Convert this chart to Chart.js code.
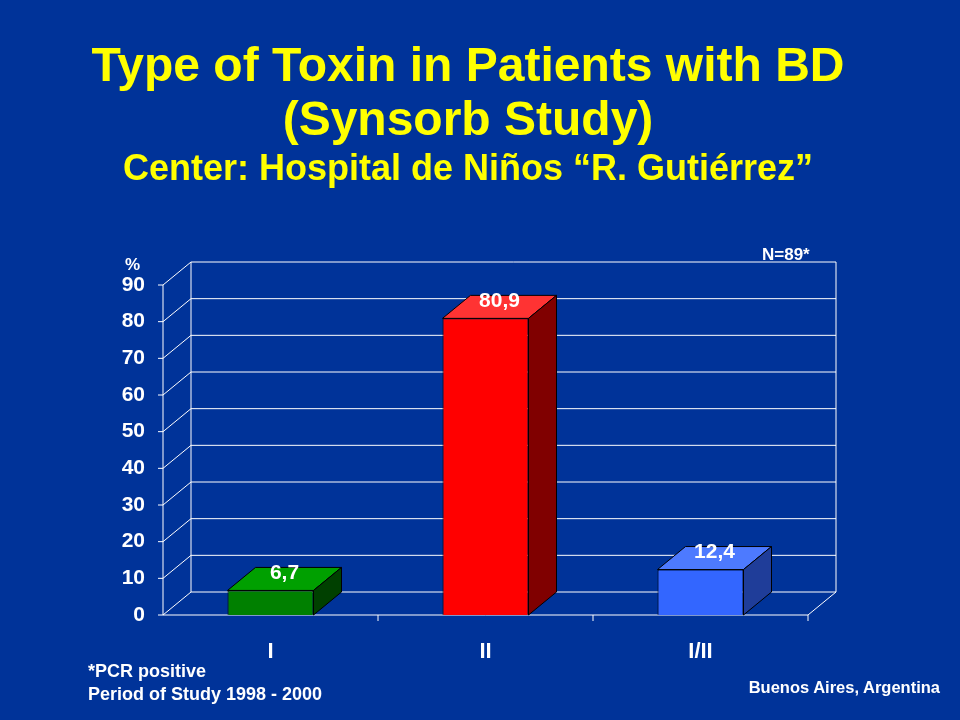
<!DOCTYPE html>
<html><head><meta charset="utf-8">
<script src="https://cdn.jsdelivr.net/npm/chart.js"></script>
<style>
body{margin:0;background:#003399;width:960px;height:720px;overflow:hidden;font-family:"Liberation Sans",Arial,sans-serif;}
.t{position:absolute;color:#ffff00;font-weight:bold;text-align:center;left:0;width:960px;}
.w{position:absolute;color:#fff;font-weight:bold;font-size:18px;}
canvas{position:absolute;left:0;top:0;}
</style></head><body>
<canvas id="c" width="960" height="720"></canvas>
<div class="t" style="top:38px;font-size:48px;line-height:54px;left:-12px">Type of Toxin in Patients with BD<br>(Synsorb Study)</div>
<div class="t" style="top:147px;font-size:36px;left:-12px">Center: Hospital de Niños “R. Gutiérrez”</div>
<div class="w" style="left:125px;top:255px;font-size:17px">%</div>
<div class="w" style="left:762px;top:245px;font-size:17px">N=89*</div>
<div class="w" style="left:88px;top:660px;line-height:23px">*PCR positive<br>Period of Study 1998 - 2000</div>
<div class="w" style="right:20px;top:678px;font-size:16.5px">Buenos Aires, Argentina</div>
<script>
const categories=["I","II","I/II"];
const values=[6.7,80.9,12.4];
const valueLabels=["6,7","80,9","12,4"];
const frontColors=["#008000","#ff0000","#3366ff"];
const topColors=["#00a000","#ff3333","#4d7aff"];
const sideColors=["#004000","#800000","#1f3d99"];
const DX=28,DY=-23;
const threeD={id:'threeD',
beforeDatasetsDraw(ch){const {ctx,chartArea:a,scales:{y}}=ch;ctx.save();ctx.strokeStyle='#fff';ctx.lineWidth=1;
 for(let v=0;v<=90;v+=10){const py=y.getPixelForValue(v);ctx.beginPath();ctx.moveTo(a.left,py);ctx.lineTo(a.left+DX,py+DY);ctx.lineTo(a.right+DX,py+DY);ctx.stroke();}
 ctx.beginPath();ctx.moveTo(a.left+DX,a.top+DY);ctx.lineTo(a.left+DX,a.bottom+DY);ctx.moveTo(a.right+DX,a.top+DY);ctx.lineTo(a.right+DX,a.bottom+DY);ctx.lineTo(a.right,a.bottom);ctx.lineTo(a.left,a.bottom);ctx.moveTo(a.left,a.top);ctx.lineTo(a.left,a.bottom);ctx.stroke();
 const w=(a.right-a.left)/categories.length;
 for(let i=1;i<=categories.length;i++){const px=a.left+w*i;ctx.beginPath();ctx.moveTo(px,a.bottom);ctx.lineTo(px,a.bottom+6);ctx.stroke();}
 for(let v=0;v<=90;v+=10){const py=y.getPixelForValue(v);ctx.beginPath();ctx.moveTo(a.left-5,py);ctx.lineTo(a.left,py);ctx.stroke();}
 ctx.restore();},
afterDatasetsDraw(ch){const {ctx}=ch;const m=ch.getDatasetMeta(0);ctx.save();ctx.strokeStyle='#000';ctx.lineWidth=1;
 m.data.forEach((b,i)=>{const l=b.x-b.width/2,r=b.x+b.width/2,t=b.y,bt=b.base;
  ctx.fillStyle=topColors[i];ctx.beginPath();ctx.moveTo(l,t);ctx.lineTo(l+DX,t+DY);ctx.lineTo(r+DX,t+DY);ctx.lineTo(r,t);ctx.closePath();ctx.fill();ctx.stroke();
  ctx.fillStyle=sideColors[i];ctx.beginPath();ctx.moveTo(r,t);ctx.lineTo(r+DX,t+DY);ctx.lineTo(r+DX,bt+DY);ctx.lineTo(r,bt);ctx.closePath();ctx.fill();ctx.stroke();
  ctx.fillStyle='#fff';ctx.font='bold 21px "Liberation Sans",Arial';ctx.textAlign='center';ctx.textBaseline='bottom';
  ctx.fillText(valueLabels[i],b.x+DX/2,t+DY/2+5);});
 ctx.restore();}};
Chart.defaults.font.family='"Liberation Sans",Arial';
new Chart(document.getElementById('c'),{type:'bar',
data:{labels:categories,datasets:[{data:values,backgroundColor:frontColors,borderColor:'#000',borderWidth:1,barPercentage:0.8,categoryPercentage:0.5}]},
options:{responsive:false,animation:false,layout:{padding:{left:0,right:152,top:285,bottom:0}},
plugins:{legend:{display:false},tooltip:{enabled:false}},
scales:{y:{min:0,max:90,ticks:{stepSize:10,color:'#fff',font:{size:21,weight:'bold'},padding:10},grid:{display:false},border:{display:false},afterFit(s){s.width=163;}},
x:{ticks:{color:'#fff',font:{size:22,weight:'bold'},padding:16},grid:{display:false},border:{display:false},afterFit(s){s.height=105;}}}},
plugins:[threeD]});
</script></body></html>
